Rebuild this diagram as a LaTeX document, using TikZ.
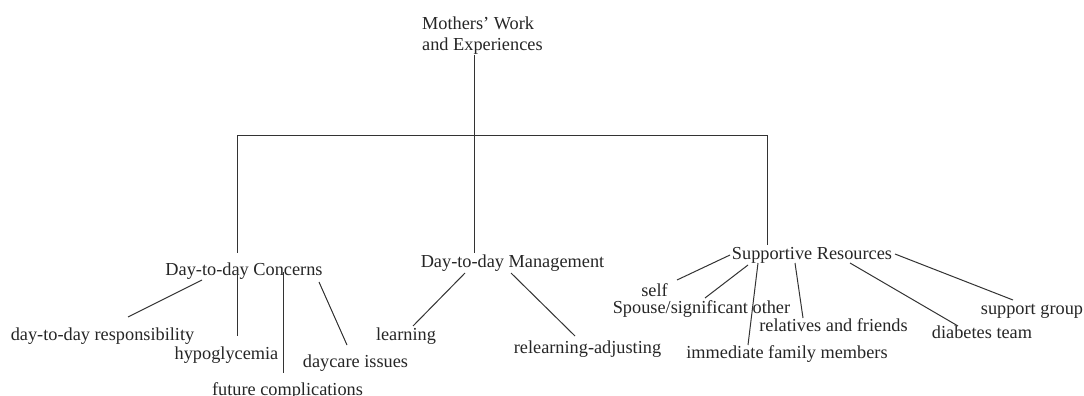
\documentclass[tikz,border=0pt]{standalone}
\usepackage{fontspec}
\setmainfont{Liberation Serif}
\usetikzlibrary{calc}
\begin{document}
\begin{tikzpicture}[x=1pt,y=-1pt,
  lbl/.style={inner sep=0pt, anchor=base, font=\fontsize{18.3}{21}\selectfont, text=black!85},
  conn/.style={line width=1pt, draw=black!80}]
\useasboundingbox[fill=white] (0,0) rectangle (1084,396);
% root
\node[inner sep=0pt, anchor=north west, align=left, font=\fontsize{18.3}{21}\selectfont, text=black!85] (root) at (422,17) {Mothers’ Work\\and Experiences};
% level 1
\node[lbl] (dc) at (244,275) {Day-to-day Concerns};
\node[lbl] (dm) at (512.5,267) {Day-to-day Management};
\node[lbl] (sr) at (812,259) {Supportive Resources};
% concerns children
\node[lbl] (resp) at (102.5,340) {day-to-day responsibility};
\node[lbl] (hypo) at (226.5,359) {hypoglycemia};
\node[lbl] (fc) at (287.5,395) {future complications};
\node[lbl] (dci) at (355.5,367) {daycare issues};
% management children
\node[lbl] (learn) at (406,340) {learning};
\node[lbl] (relearn) at (587.5,353) {relearning-adjusting};
% resources children
\node[lbl] (self) at (654.5,296) {self};
\node[lbl] (spouse) at (701.5,313) {Spouse/significant other};
\node[lbl] (ifm) at (787,358) {immediate family members};
\node[lbl] (rf) at (833.5,331) {relatives and friends};
\node[lbl] (dt) at (982,338) {diabetes team};
\node[lbl] (sg) at (1032,314) {support group};
% tree skeleton
\coordinate (j) at (474,135);
\coordinate (jl) at (237,135);
\coordinate (jr) at (767,135);
\coordinate (dcTop) at ($(dc.base)+(0,-22)$);
\coordinate (dmTop) at ($(dm.base)+(0,-14)$);
\coordinate (srTop) at ($(sr.base)+(0,-14)$);
\draw[conn] (root.south -| j) -- (j);
\draw[conn] (jl) -- (jr);
\draw[conn] (jl) -- (jl |- dcTop);
\draw[conn] (j) -- (j |- dmTop);
\draw[conn] (jr) -- (jr |- srTop);
% concerns links
\draw[conn] ($(dc.base)+(-42,5)$) -- ($(resp.base)+(25.5,-23)$);
\draw[conn] ($(dc.base)+(-7,-2)$) -- ($(hypo.base)+(10.5,-23)$);
\draw[conn] ($(dc.base)+(39,-3)$) -- ($(fc.base)+(-4.5,-22)$);
\draw[conn] ($(dc.base)+(75,7)$) -- ($(dci.base)+(-8.5,-22)$);
% management links
\draw[conn] ($(dm.base)+(-47.5,6)$) -- ($(learn.base)+(7,-14)$);
\draw[conn] ($(dm.base)+(-1.5,6)$) -- ($(relearn.base)+(-12.5,-17)$);
% resources links
\draw[conn] ($(sr.base)+(-82,-4)$) -- ($(self.base)+(22.5,-16)$);
\draw[conn] ($(sr.base)+(-64,6)$) -- ($(spouse.base)+(3.5,-15)$);
\draw[conn] ($(sr.base)+(-54,4)$) -- ($(ifm.base)+(-39,-13)$);
\draw[conn] ($(sr.base)+(-17,4)$) -- ($(rf.base)+(-30.5,-13)$);
\draw[conn] ($(sr.base)+(38,4)$) -- ($(dt.base)+(-24,-12)$);
\draw[conn] ($(sr.base)+(83,-5)$) -- ($(sg.base)+(-19,-14)$);
\end{tikzpicture}
\end{document}
